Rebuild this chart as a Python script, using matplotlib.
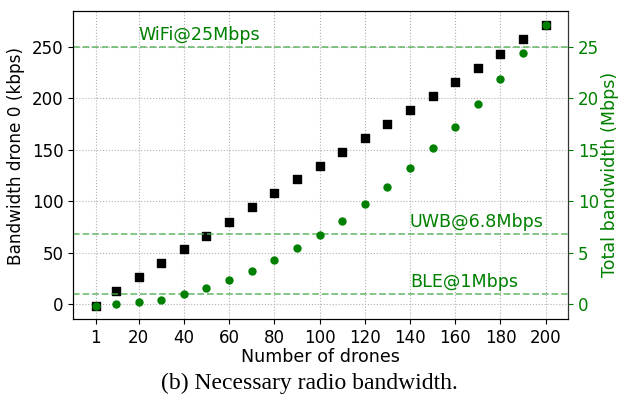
import matplotlib
matplotlib.use("Agg")
import matplotlib.pyplot as plt

# Data
drones = [1, 10, 20, 30, 40, 50, 60, 70, 80, 90, 100,
          110, 120, 130, 140, 150, 160, 170, 180, 190, 200]
bw_drone0 = [-1.5, 12.3, 25.9, 39.5, 53.3, 66.5, 80.3, 94.2, 107.8, 121.3, 134.5,
             148.0, 161.5, 175.3, 189.0, 202.5, 216.0, 229.8, 243.5, 257.3, 271.0]
bw_total = [-0.15, 0.05, 0.2, 0.45, 0.95, 1.55, 2.35, 3.2, 4.25, 5.45, 6.7,
            8.1, 9.7, 11.4, 13.2, 15.2, 17.25, 19.5, 21.9, 24.4, 27.1]
xticks = [1, 20, 40, 60, 80, 100, 120, 140, 160, 180, 200]

radios = ["WiFi@25Mbps", "UWB@6.8Mbps", "BLE@1Mbps"]
radio_limits = [25, 6.8, 1]
label_x = [20, 140, 140]

fig = plt.figure(figsize=(6.19, 4.04), dpi=100)
ax = fig.add_axes([0.118, 0.21, 0.8, 0.763])
ax2 = ax.twinx()

ax.grid(True, linestyle=":", color="#b0b0b0", linewidth=0.8)
ax.set_axisbelow(True)

ax.scatter(drones, bw_drone0, marker="s", s=40, color="black", zorder=3)
ax2.scatter(drones, bw_total, marker="o", s=25, color="green", zorder=3)

ax.set_xticks(xticks)
ax.set_xlim(-8.95, 209.95)
ax.set_ylim(-14.6, 285)
ax2.set_ylim(-1.46, 28.5)

# radio capacity lines
for name, lim, lx in zip(radios, radio_limits, label_x):
    ax2.axhline(lim, color="#4caf50", linestyle="--", linewidth=1.3, alpha=0.75)
    ax2.text(lx, lim + 0.3, name, color="green", fontsize=12.6, va="bottom")

ax.tick_params(labelsize=12)
ax2.tick_params(labelsize=12, colors="green")
ax2.spines["right"].set_color("#333333")
ax.set_xlabel("Number of drones", fontsize=12.6, labelpad=1)
ax.set_ylabel("Bandwidth drone 0 (kbps)", fontsize=12.2)
ax2.set_ylabel("Total bandwidth (Mbps)", fontsize=12.6, color="green")
ax.yaxis.set_label_coords(-0.097, 0.53)
ax2.yaxis.set_label_coords(1.066, 0.47)

fig.text(0.5, 0.052, "(b) Necessary radio bandwidth.", ha="center", va="center",
         fontsize=17, family="Liberation Serif")

plt.savefig("out.png", dpi=100)
